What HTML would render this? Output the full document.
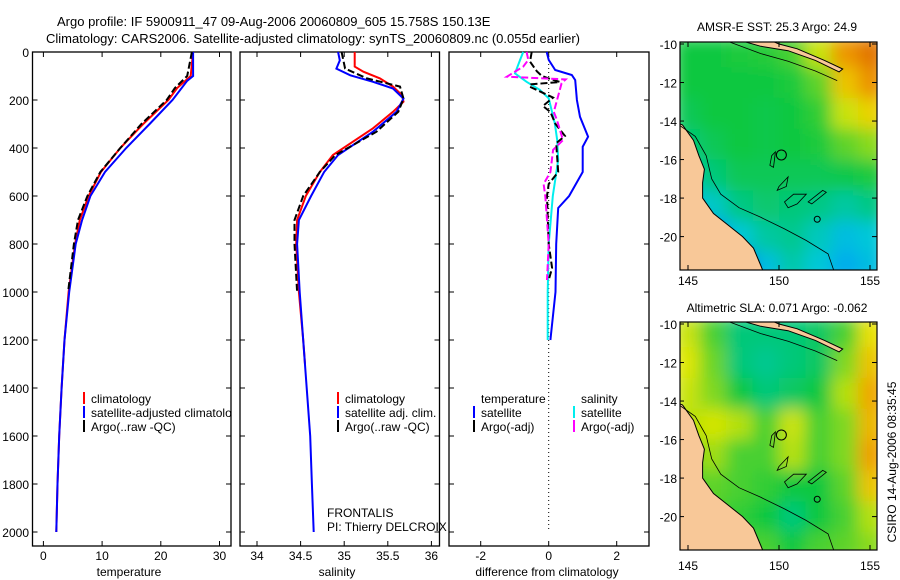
<!DOCTYPE html>
<html><head><meta charset="utf-8"><style>
body{margin:0;background:#fff}
svg{display:block;font-family:"Liberation Sans",sans-serif}
</style></head><body>
<svg id="c" width="900" height="580" viewBox="0 0 900 580" xmlns="http://www.w3.org/2000/svg">
<defs>
<filter id="bl" x="-5%" y="-5%" width="110%" height="110%"><feGaussianBlur stdDeviation="8"/></filter>
<clipPath id="cm1"><rect x="680" y="42" width="197" height="228"/></clipPath>
<clipPath id="cm2"><rect x="680" y="322" width="197" height="228"/></clipPath>
<clipPath id="cp1"><rect x="32" y="52" width="199" height="494"/></clipPath>
</defs>
<text x="57" y="26" font-size="13">Argo profile: IF 5900911_47 09-Aug-2006 20060809_605 15.758S 150.13E</text>
<text x="46" y="43" font-size="13">Climatology: CARS2006. Satellite-adjusted climatology: synTS_20060809.nc (0.055d earlier)</text>
<g id="g"></g>
</svg>
<script>
// ---- data: depth profiles ----
const tDepth=[0,100,150,200,300,400,500,600,700,800,1000,1200,1400,1600,1800,2000];
const tClim=[25.5,25.1,22.8,21.3,17.0,13.1,9.8,7.7,6.2,5.4,4.3,3.6,3.1,2.7,2.4,2.2];
const tSatDepth=[0,100,120,200,300,400,500,600,700,800,1000,1200,1400,1600,1800,2000];
const tSat=[25.5,25.5,24.5,22.0,18.1,14.1,10.5,8.0,6.6,5.5,4.4,3.6,3.1,2.7,2.4,2.2];
const tArgoDepth=[0,100,150,200,300,400,500,600,700,800,1000];
const tArgo=[25.3,24.5,22.4,21.0,16.7,13.1,9.7,7.5,5.9,5.2,4.2];

const sClimDepth=[0,61,82,110,144,179,207,249,318,429,500,600,700,800,1000,1200,1300];
const sClim=[35.12,35.12,35.22,35.41,35.56,35.66,35.68,35.56,35.33,34.87,34.72,34.56,34.46,34.45,34.48,34.53,34.55];
const sSatDepth=[0,35,69,97,124,152,194,249,332,429,500,600,700,800,1000,1200,1400,1600,1800,2000];
const sSat=[34.93,34.95,34.91,35.07,35.33,35.56,35.68,35.6,35.33,34.93,34.77,34.62,34.48,34.46,34.49,34.53,34.57,34.61,34.63,34.65];
const sArgoDepth=[0,69,110,144,194,249,332,429,500,600,700,800,1000];
const sArgo=[34.97,35.01,35.26,35.64,35.68,35.62,35.37,34.9,34.72,34.53,34.43,34.43,34.46];

const dTempSatDepth=[0,33,75,96,117,200,270,353,395,500,600,650,800,1000,1200];
const dTempSat=[-0.06,0,0.19,0.68,0.78,0.83,0.92,1.16,1.0,1.0,0.6,0.28,0.22,0.2,0.05];
const dSalSatDepth=[0,33,89,124,158,193,297,367,450,600,800,1000,1200];
const dSalSat=[-0.75,-0.84,-0.99,-0.65,-0.26,0,0.18,0.25,0.28,0.12,0,-0.03,-0.03];
const dTempArgoDepth=[0,40,80,100,110,125,135,145,190,225,250,300,350,380,500,550,600,800,900,950];
const dTempArgo=[-0.5,-0.55,-0.35,-0.2,0,0.33,-0.55,-0.55,0.13,-0.17,0.05,0.2,0.48,0.22,0.28,0,-0.05,0,0.1,0];
const dSalArgoDepth=[0,33,61,103,114,130,250,283,367,408,500,550,600,800,950];
const dSalArgo=[-0.65,-0.6,-0.75,-1.23,0.5,0.38,0.15,0.24,0.42,0.13,0.05,-0.15,-0.1,0,-0.05];

const depthTicks=[0,200,400,600,800,1000,1200,1400,1600,1800,2000];
const tTicks=[0,10,20,30];
const sTicks=[34,34.5,35,35.5,36];
const sTickLabels=["34","34.5","35","35.5","36"];
const dTicks=[-2,0,2];
const latTicks=[-10,-12,-14,-16,-18,-20];
const lonTicks=[145,150,155];

// SST and SLA grids (colormap index 0..1), rows from -10 to -22 lat, cols 144.5..155.5 lon
const sstGrid=[
[.55,.55,.56,.57,.6,.72,.87,.94],
[.55,.55,.55,.55,.56,.62,.8,.88],
[.53,.55,.55,.54,.55,.58,.72,.78],
[.5,.53,.55,.54,.55,.56,.62,.66],
[.44,.5,.53,.53,.53,.53,.54,.56],
[.37,.42,.49,.51,.5,.49,.46,.49],
[.25,.3,.4,.46,.48,.43,.38,.4],
[.06,.1,.2,.38,.45,.4,.35,.38]];
const slaGrid=[
[.72,.6,.5,.5,.5,.52,.6,.76],
[.74,.63,.5,.48,.5,.52,.65,.8],
[.72,.65,.55,.5,.52,.55,.7,.84],
[.7,.73,.7,.6,.72,.6,.65,.82],
[.65,.68,.6,.6,.7,.6,.65,.85],
[.6,.62,.6,.58,.55,.55,.62,.8],
[.62,.6,.58,.55,.5,.55,.6,.7],
[.68,.64,.6,.6,.55,.6,.62,.66]];

const NS='http://www.w3.org/2000/svg';
const G=document.getElementById('g');
function mk(tag,attrs,parent){const e=document.createElementNS(NS,tag);for(const k in attrs)e.setAttribute(k,attrs[k]);(parent||G).appendChild(e);return e;}
const Y=d=>52+d*0.24;
const panels=[
 {x0:32.5,x1:231,X:v=>43.4+v*5.87,ticks:tTicks,labels:tTicks.map(String),title:'temperature',tx:129,name:'temperature-panel'},
 {x0:240,x1:439.5,X:v=>257+(v-34)*87.2,ticks:sTicks,labels:sTickLabels,title:'salinity',tx:337,name:'salinity-panel'},
 {x0:449,x1:649,X:v=>548.7+v*34,ticks:dTicks,labels:dTicks.map(String),title:'difference from climatology',tx:547,name:'difference-panel'}];
panels.forEach((p,i)=>{
 const grp=mk('g',{});
 
 
 const r=mk('rect',{x:p.x0,y:52,width:p.x1-p.x0,height:494,fill:'none',stroke:'#000','stroke-width':1.3},grp);
 
 
 depthTicks.forEach(d=>{
  mk('line',{x1:p.x0,x2:p.x0+5,y1:Y(d),y2:Y(d),stroke:'#000'},grp);
  mk('line',{x1:p.x1,x2:p.x1-5,y1:Y(d),y2:Y(d),stroke:'#000'},grp);
  if(i===0){const t=mk('text',{x:29,y:Y(d)+5,'font-size':12,'text-anchor':'end'},grp);t.textContent=d;
   
   }
 });
 p.ticks.forEach((v,j)=>{
  const x=p.X(v);
  mk('line',{x1:x,x2:x,y1:546,y2:541,stroke:'#000'},grp);
  mk('line',{x1:x,x2:x,y1:52,y2:57,stroke:'#000'},grp);
  const t=mk('text',{x:x,y:560,'font-size':12,'text-anchor':'middle'},grp);t.textContent=p.labels[j];
  
  
 });
 const at=mk('text',{x:p.tx,y:576,'font-size':12,'text-anchor':'middle'},grp);at.textContent=p.title;
 
 
});
function series(p,depths,vals,color,dash,name,w){
 const pts=depths.map((d,k)=>p.X(vals[k]).toFixed(1)+','+Y(d).toFixed(1)).join(' ');
 const e=mk('polyline',{points:pts,fill:'none',stroke:color,'stroke-width':w||2,'stroke-dasharray':dash||'none'});
 
 
}
const P=panels;
const zl=mk('line',{x1:P[2].X(0),x2:P[2].X(0),y1:Y(0),y2:Y(2000),stroke:'#000','stroke-dasharray':'1,3'});


series(P[0],tDepth,tClim,'#f00',null,'temp-climatology-line');
series(P[0],tSatDepth,tSat,'#00f',null,'temp-satellite-line');
series(P[0],tArgoDepth,tArgo,'#000','7,3','temp-argo-line');
series(P[1],sClimDepth,sClim,'#f00',null,'sal-climatology-line');
series(P[1],sSatDepth,sSat,'#00f',null,'sal-satellite-line');
series(P[1],sArgoDepth,sArgo,'#000','7,3','sal-argo-line');
series(P[2],dTempSatDepth,dTempSat,'#00f',null,'diff-temp-satellite-line');
series(P[2],dSalSatDepth,dSalSat,'#0ee',null,'diff-sal-satellite-line');
series(P[2],dTempArgoDepth,dTempArgo,'#000','7,3','diff-temp-argo-line');
series(P[2],dSalArgoDepth,dSalArgo,'#f0f','7,3','diff-sal-argo-line');

function legend(x,y,color,label,name,clip){
 const gg=mk('g',clip?{'clip-path':'url(#'+clip+')'}:{});
 
 
 mk('line',{x1:x,x2:x,y1:y-11,y2:y+1,stroke:color,'stroke-width':2},gg);
 const t=mk('text',{x:x+7,y:y,'font-size':12},gg);t.textContent=label;
}
function txt(x,y,s,name,anchor){const t=mk('text',{x:x,y:y,'font-size':12,'text-anchor':anchor||'start'});t.textContent=s;
 
 return t;}
legend(84,403,'#f00','climatology','legend-climatology');
legend(84,417,'#00f','satellite-adjusted climatology','legend-satellite-adjusted','cp1');
legend(84,431,'#000','Argo(..raw -QC)','legend-argo');
legend(338,403,'#f00','climatology','legend-sal-climatology');
legend(338,417,'#00f','satellite adj. clim.','legend-sal-satellite');
legend(338,431,'#000','Argo(..raw -QC)','legend-sal-argo');
txt(481,403,'temperature','legend-header-temperature');
txt(581,403,'salinity','legend-header-salinity');
legend(474,417,'#00f','satellite','legend-diff-temp-satellite');
legend(474,431,'#000','Argo(-adj)','legend-diff-temp-argo');
legend(574,417,'#0ee','satellite','legend-diff-sal-satellite');
legend(574,431,'#f0f','Argo(-adj)','legend-diff-sal-argo');
txt(327,517,'FRONTALIS','platform-label');
txt(327,531,'PI: Thierry DELCROIX','pi-label');

// ---- maps ----
const stops=[[0,[0,0,96]],[.15,[0,32,224]],[.3,[0,144,255]],[.4,[0,200,216]],[.48,[0,200,144]],[.55,[16,200,64]],[.65,[128,216,32]],[.75,[232,232,0]],[.85,[240,160,0]],[.95,[224,112,0]]];
function cmap(v){for(let i=1;i<stops.length;i++){if(v<=stops[i][0]){const a=stops[i-1],b=stops[i],t=(v-a[0])/(b[0]-a[0]);return 'rgb('+a[1].map((c,k)=>Math.round(c+(b[1][k]-c)*t)).join(',')+')';}}return 'rgb(224,112,0)';}
const land=[[144.4,-14.1],[144.7,-14.2],[145.3,-15.0],[145.6,-15.8],[145.9,-16.5],[145.8,-17.2],[145.8,-18.0],[146.4,-18.8],[147.2,-19.4],[148,-20.0],[148.6,-20.6],[149.0,-21.5],[149.3,-22.2],[144.4,-22.2]];
const landTop=[[147.8,-9.8],[149,-10.12],[150.5,-10.35],[152,-10.85],[153.3,-11.45],[153.5,-11.3],[152.5,-10.85],[151,-10.25],[150,-10.0],[149.5,-9.8]];
const iso1=[[144.5,-14.2],[145.4,-14.8],[146.0,-15.8],[146.3,-17.0],[146.8,-17.8],[147.8,-18.5],[149,-19],[150.3,-19.6],[151.5,-20.2],[152.7,-20.9],[153.1,-22]];
const iso2=[[147.3,-9.9],[149,-10.5],[150.5,-10.9],[152,-11.4],[153.2,-11.9]];
const reefs=[[[149.6,-15.8],[149.8,-15.6],[149.7,-16.4],[149.5,-16.3]],[[150.0,-17.4],[150.5,-16.9],[150.4,-17.4],[149.9,-17.6]],[[150.3,-18.2],[150.8,-17.8],[151.5,-17.8],[151,-18.3],[150.5,-18.5]],[[151.6,-18.2],[152.4,-17.6],[152.6,-17.7],[151.8,-18.3]]];
function map(top,bot,y10,clip,grid,title,titleY,labelY,name){
 const mg=mk('g',{});
 
 
 const k=19.26;
 const LX=v=>688+(v-145)*18.2, LY=v=>y10+(-10-v)*k;
 const cg=mk('g',{'clip-path':'url(#'+clip+')'},mg);
 const fg=mk('g',{filter:'url(#bl)'},cg);
 grid.forEach((row,ri)=>row.forEach((v,ci)=>{
  const lon0=144.2+ci*1.45, lat0=-9.6-ri*1.6;
  const c=mk('rect',{x:LX(lon0),y:LY(lat0),width:18.2*1.45+1,height:k*1.6+1,fill:cmap(v)},fg);
  
  
 }));
 const pth=a=>a.map(q=>LX(q[0]).toFixed(1)+','+LY(q[1]).toFixed(1)).join(' ');
 const l1=mk('polygon',{points:pth(land),fill:'#f8c898',stroke:'#000','stroke-width':1},cg);
 
 
 const l2=mk('polygon',{points:pth(landTop),fill:'#f8c898',stroke:'#000','stroke-width':1},cg);
 
 
 mk('polyline',{points:pth(iso1),fill:'none',stroke:'#000','stroke-width':0.8},cg);
 mk('polyline',{points:pth(iso2),fill:'none',stroke:'#000','stroke-width':0.8},cg);
 reefs.forEach(r=>mk('polygon',{points:pth(r),fill:'none',stroke:'#000','stroke-width':0.8},cg));
 mk('circle',{cx:LX(150.13),cy:LY(-15.76),r:5,fill:'none',stroke:'#000'},cg);
 mk('circle',{cx:LX(152.1),cy:LY(-19.1),r:3,fill:'none',stroke:'#000'},cg);
 mk('rect',{x:680,y:top,width:197,height:bot-top,fill:'none',stroke:'#000','stroke-width':1.2},mg);
 latTicks.forEach(v=>{const y=LY(v);
  mk('line',{x1:877,x2:872,y1:y,y2:y,stroke:'#000'},mg);
  mk('line',{x1:680,x2:684,y1:y,y2:y,stroke:'#000'},mg);
  const t=mk('text',{x:677,y:y+5,'font-size':12,'text-anchor':'end'},mg);t.textContent=v;
  
  });
 lonTicks.forEach(v=>{const x=LX(v);
  mk('line',{x1:x,x2:x,y1:bot,y2:bot-5,stroke:'#000'},mg);
  mk('line',{x1:x,x2:x,y1:top,y2:top+5,stroke:'#000'},mg);
  const t=mk('text',{x:x,y:labelY,'font-size':12,'text-anchor':'middle'},mg);t.textContent=v;
  
  });
 const tt=mk('text',{x:777,y:titleY,'font-size':12,'text-anchor':'middle'},mg);tt.textContent=title;
 
 
}
map(42,270,44,'cm1',sstGrid,'AMSR-E SST: 25.3 Argo: 24.9',31,285,'sst-map');
map(322,550,324,'cm2',slaGrid,'Altimetric SLA: 0.071 Argo: -0.062',312,570,'sla-map');
const cs=txt(0,0,'CSIRO 14-Aug-2006 08:35:45','timestamp-label','middle');
cs.setAttribute('transform','translate(896,462) rotate(-90)');
</script>
</body></html>
